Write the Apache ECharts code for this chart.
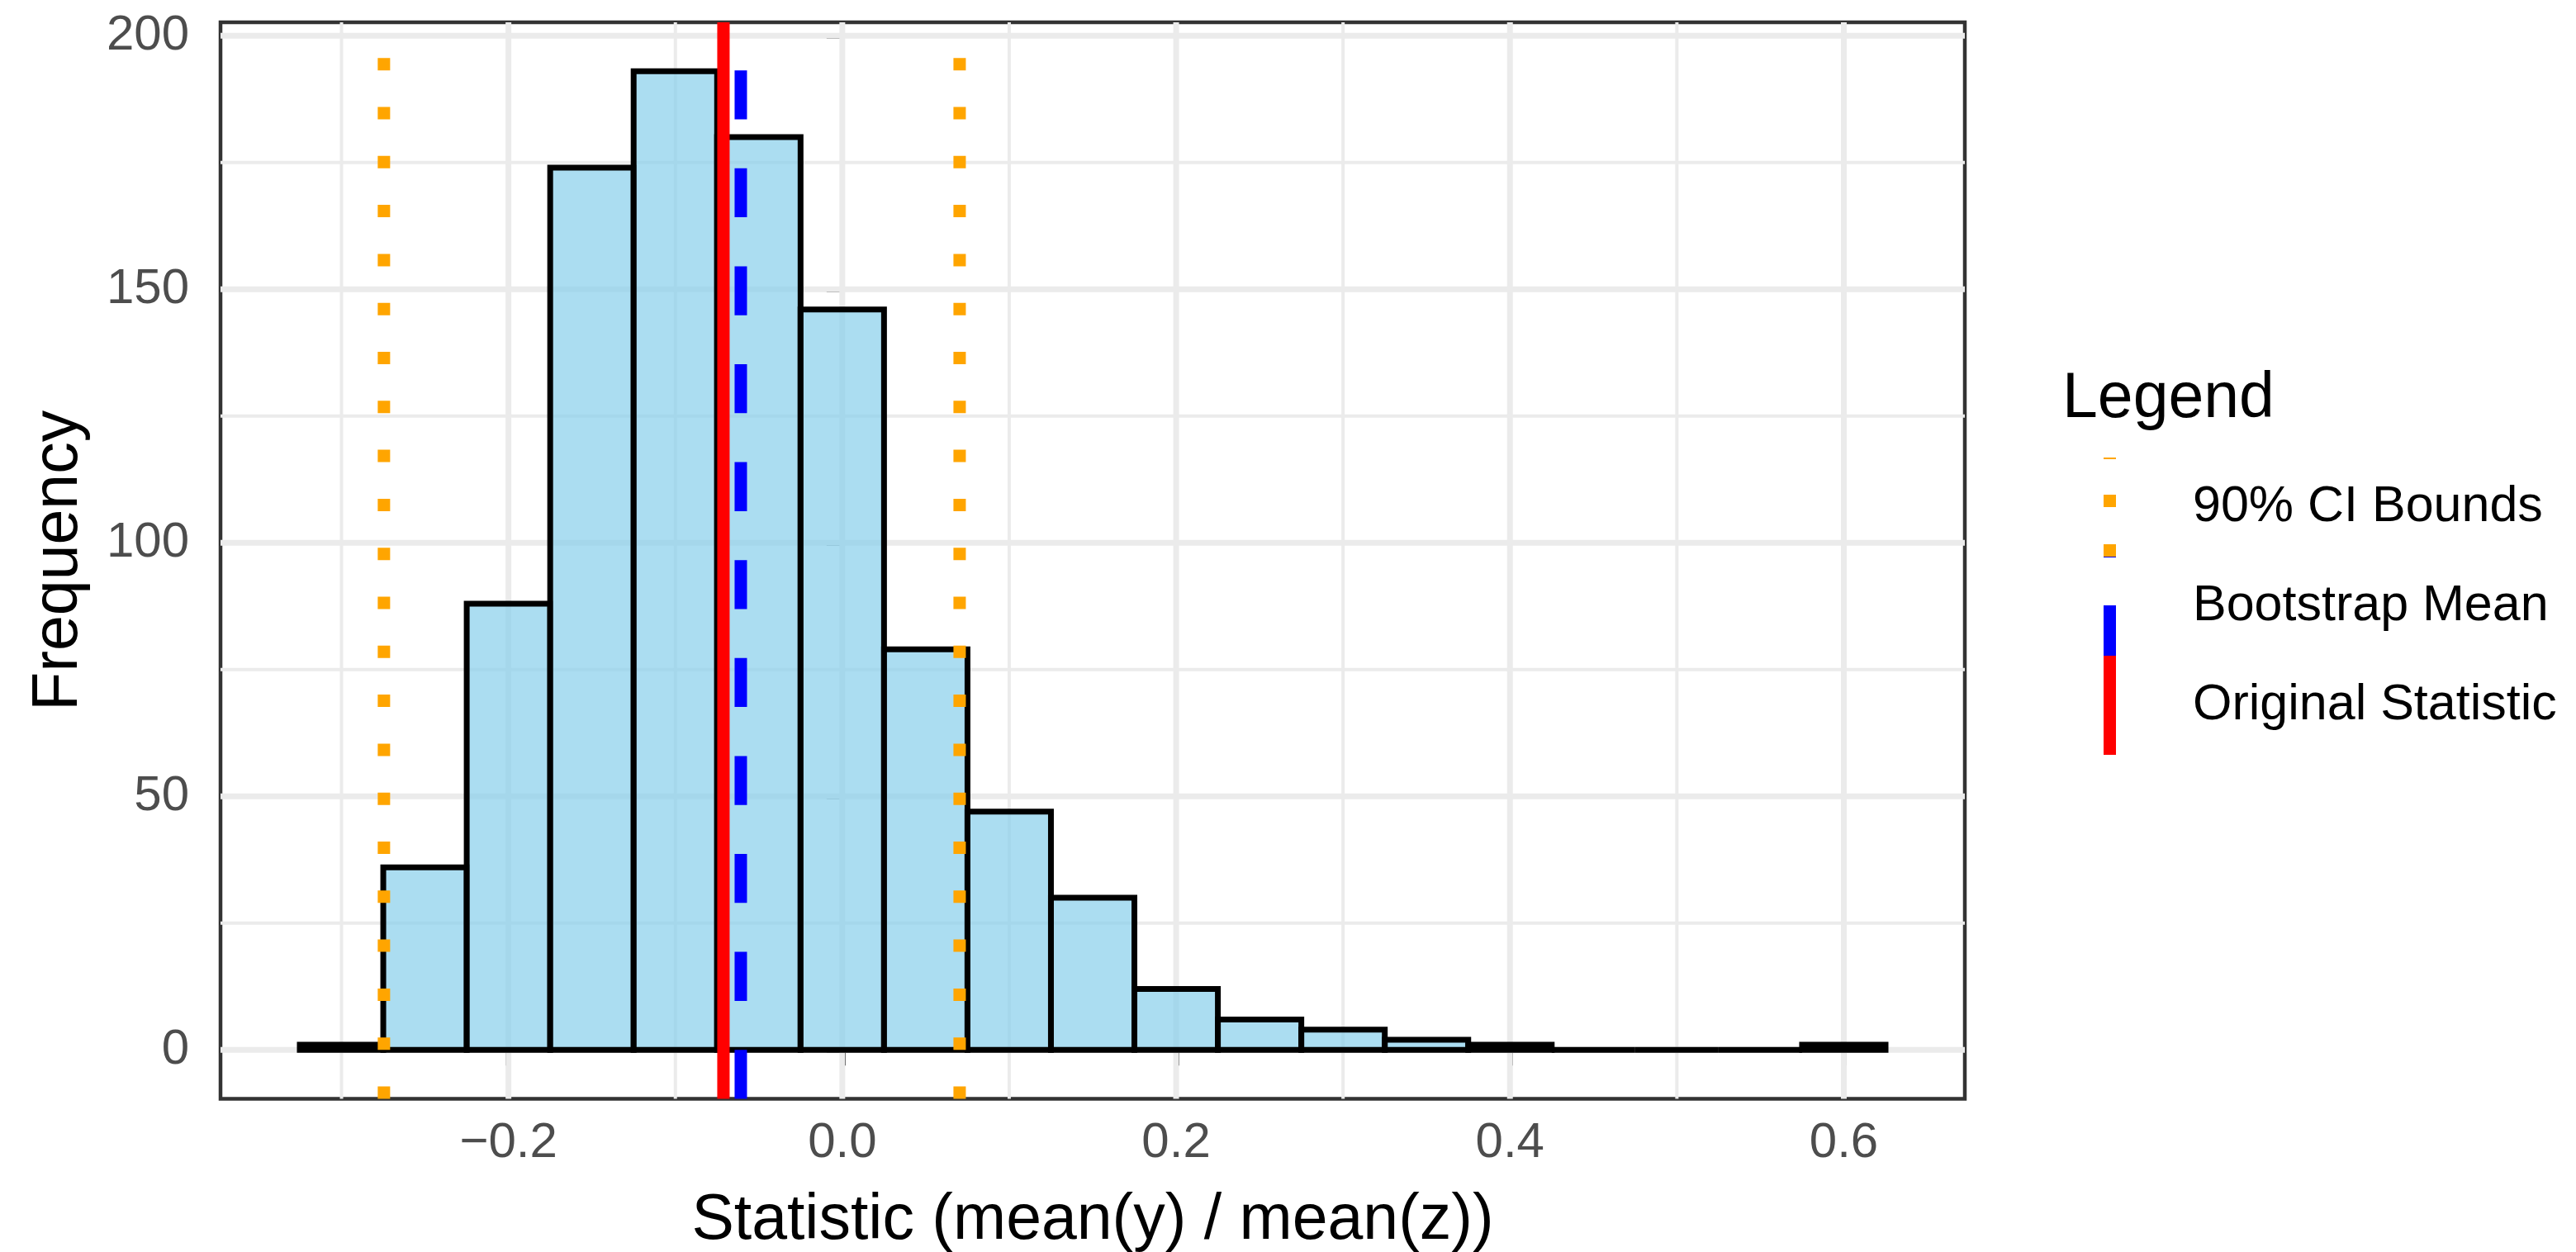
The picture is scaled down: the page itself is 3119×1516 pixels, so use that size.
<!DOCTYPE html>
<html>
<head>
<meta charset="utf-8">
<script src="https://cdn.jsdelivr.net/npm/echarts@6/dist/echarts.min.js"></script>
<style>
  html, body { margin: 0; padding: 0; background: #fff; }
  #chart { width: 3119px; height: 1516px; }
</style>
</head>
<body>
<div id="chart"></div>
<script>
// ---- data ----
const binCenters = [-0.30, -0.25, -0.20, -0.15, -0.10, -0.05, 0.00, 0.05, 0.10, 0.15, 0.20, 0.25, 0.30, 0.35, 0.40, 0.45, 0.50, 0.55, 0.60];
const binCounts  = [1, 36, 88, 174, 193, 180, 146, 79, 47, 30, 12, 6, 4, 2, 1, 0, 0, 0, 1];
const binWidth = 0.05;
const ciBounds = [-0.2746, 0.0703];
const bootstrapMean = [-0.0608];
const originalStatistic = [-0.0712];
const xTicks = [-0.2, 0.0, 0.2, 0.4, 0.6];
const xMinorGrid = [-0.3, -0.1, 0.1, 0.3, 0.5];
const yTicks = [0, 50, 100, 150, 200];
const yMinorGrid = [25, 75, 125, 175];
const xLimits = [-0.3725, 0.6725];
const yLimits = [-9.65, 202.65];
const legendNames = ['90% CI Bounds', 'Bootstrap Mean', 'Original Statistic'];

const FONT = 'Liberation Sans, Arial, Helvetica, sans-serif';

function vGridRender(width) {
  return function (params, api) {
    const v = api.value(0);
    const p0 = api.coord([v, yLimits[0]]);
    const p1 = api.coord([v, yLimits[1]]);
    return { type: 'line', silent: true,
      shape: { x1: p0[0], y1: p0[1], x2: p1[0], y2: p1[1] },
      style: { stroke: '#EBEBEB', lineWidth: width, fill: null } };
  };
}
function hGridRender(width) {
  return function (params, api) {
    const v = api.value(1);
    const p0 = api.coord([xLimits[0], v]);
    const p1 = api.coord([xLimits[1], v]);
    return { type: 'line', silent: true,
      shape: { x1: p0[0], y1: p0[1], x2: p1[0], y2: p1[1] },
      style: { stroke: '#EBEBEB', lineWidth: width, fill: null } };
  };
}
function vlineRender(color, dash) {
  return function (params, api) {
    const v = api.value(0);
    const p0 = api.coord([v, yLimits[0]]);
    const p1 = api.coord([v, yLimits[1]]);
    return { type: 'line', silent: true,
      shape: { x1: p0[0], y1: p0[1], x2: p1[0], y2: p1[1] },
      style: { stroke: color, lineWidth: 15, lineDash: dash, lineDashOffset: 0, lineCap: 'butt', fill: null } };
  };
}

const chart = echarts.init(document.getElementById('chart'), null, { renderer: 'canvas' });

const option = {
  animation: false,
  backgroundColor: '#ffffff',
  grid: {
    left: 267, right: 740, top: 27, bottom: 185.5,
    show: true, borderColor: '#333333', borderWidth: 4.5, backgroundColor: 'transparent',
    containLabel: false, outerBoundsMode: 'none'
  },
  title: {
    text: 'Legend', left: 2497, top: 445, padding: 0,
    textStyle: { fontSize: 77, fontWeight: 'normal', color: '#000', fontFamily: FONT }
  },
  legend: {
    orient: 'vertical', left: 2547, top: 554, padding: 0, itemGap: 0,
    itemWidth: 15, itemHeight: 120, selectedMode: false,
    textStyle: { fontSize: 61, color: '#000', fontFamily: FONT, padding: [13, 0, 0, 88] },
    data: [
      { name: legendNames[0], icon: 'path://M0,0h15v2h-15z M0,45h15v15h-15z M0,105h15v15h-15z', itemStyle: { color: '#FFA500' } },
      { name: legendNames[1], icon: 'path://M0,0h15v1h-15z M0,59h15v61h-15z', itemStyle: { color: '#0000FF' } },
      { name: legendNames[2], icon: 'rect', itemStyle: { color: '#FF0000' } }
    ]
  },
  xAxis: {
    type: 'value', min: xLimits[0], max: xLimits[1],
    name: 'Statistic (mean(y) / mean(z))', nameLocation: 'middle', nameGap: 110,
    nameTextStyle: { fontSize: 77, color: '#000', fontFamily: FONT },
    axisLine: { show: false },
    splitLine: { show: false },
    axisTick: { show: true, customValues: xTicks, length: 19, lineStyle: { color: '#333333', width: 7 } },
    axisLabel: {
      show: true, customValues: xTicks, margin: 24, fontSize: 60, color: '#4D4D4D', fontFamily: FONT,
      formatter: function (v) { return (v < 0 ? '\u2212' : '') + Math.abs(v).toFixed(1); }
    }
  },
  yAxis: {
    type: 'value', min: yLimits[0], max: yLimits[1],
    name: 'Frequency', nameLocation: 'middle', nameGap: 157, nameRotate: 90,
    nameTextStyle: { fontSize: 77, color: '#000', fontFamily: FONT },
    axisLine: { show: false },
    splitLine: { show: false },
    axisTick: { show: true, customValues: yTicks, length: 19, lineStyle: { color: '#333333', width: 7 } },
    axisLabel: {
      show: true, customValues: yTicks, margin: 38, fontSize: 60, color: '#4D4D4D', fontFamily: FONT,
      formatter: function (v) { return String(Math.round(v)); }
    }
  },
  series: [
    { type: 'custom', name: 'gridXMinor', z: 0, silent: true, renderItem: vGridRender(4),
      data: xMinorGrid.map(v => [v, 0]), encode: { x: 0, y: 1 } },
    { type: 'custom', name: 'gridYMinor', z: 0, silent: true, renderItem: hGridRender(4),
      data: yMinorGrid.map(v => [0, v]), encode: { x: 0, y: 1 } },
    { type: 'custom', name: 'gridXMajor', z: 1, silent: true, renderItem: vGridRender(7),
      data: xTicks.map(v => [v, 0]), encode: { x: 0, y: 1 } },
    { type: 'custom', name: 'gridYMajor', z: 1, silent: true, renderItem: hGridRender(7),
      data: yTicks.map(v => [0, v]), encode: { x: 0, y: 1 } },
    {
      type: 'custom', name: 'histogram', z: 2, silent: true,
      data: binCenters.map((c, i) => [c, binCounts[i]]),
      encode: { x: 0, y: 1 },
      renderItem: function (params, api) {
        const c = api.value(0), n = api.value(1);
        const pA = api.coord([c - binWidth / 2, n]);
        const pB = api.coord([c + binWidth / 2, 0]);
        return {
          type: 'polygon',
          shape: { points: [[pA[0], pB[1]], [pA[0], pA[1]], [pB[0], pA[1]], [pB[0], pB[1]]] },
          style: { fill: 'rgba(135,206,235,0.7)', stroke: '#000000', lineWidth: 7, lineJoin: 'miter' }
        };
      }
    },
    { type: 'custom', name: legendNames[0], z: 3, itemStyle: { color: '#FFA500' },
      renderItem: vlineRender('#FFA500', [15, 44.3]),
      data: ciBounds.map(v => [v, 0]), encode: { x: 0, y: 1 } },
    { type: 'custom', name: legendNames[1], z: 4, itemStyle: { color: '#0000FF' },
      renderItem: vlineRender('#0000FF', [59.3, 59.3]),
      data: bootstrapMean.map(v => [v, 0]), encode: { x: 0, y: 1 } },
    { type: 'custom', name: legendNames[2], z: 5, itemStyle: { color: '#FF0000' },
      renderItem: vlineRender('#FF0000', null),
      data: originalStatistic.map(v => [v, 0]), encode: { x: 0, y: 1 } }
  ]
};
chart.setOption(option);
</script>
</body>
</html>
